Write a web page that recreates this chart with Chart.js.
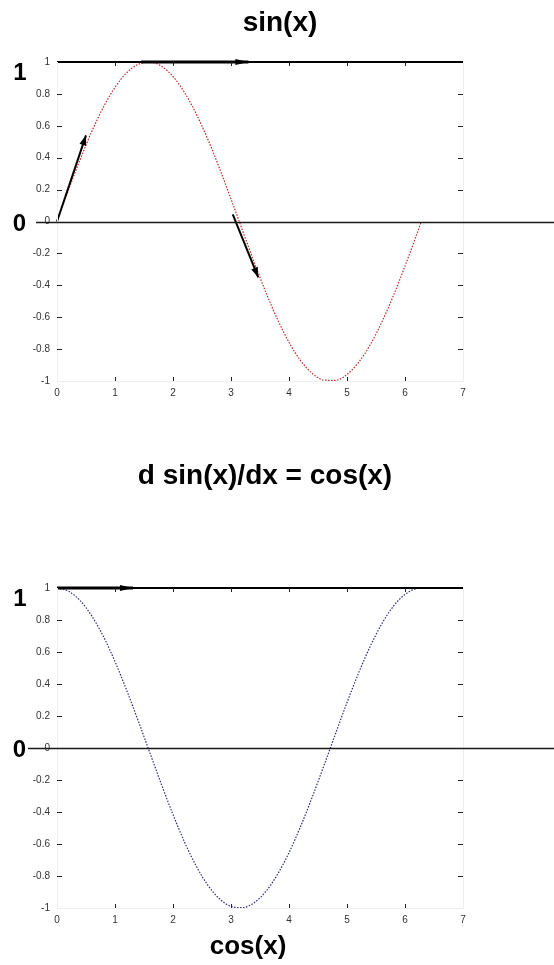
<!DOCTYPE html>
<html>
<head>
<meta charset="utf-8">
<script src="https://cdn.jsdelivr.net/npm/chart.js@4.4.1/dist/chart.umd.min.js"></script>
<style>
  html, body { margin: 0; padding: 0; background: #fff; }
  #wrap { position: relative; width: 554px; height: 965px; overflow: hidden; }
  canvas { position: absolute; left: 0; }
</style>
</head>
<body>
<div id="wrap">
  <canvas id="sinChart" width="554" height="440" style="top:0px"></canvas>
  <canvas id="cosChart" width="554" height="525" style="top:440px"></canvas>
</div>
<script>
// Sample positions along x (radians) and the curve values read at them
const xValues   = [0, 0.2, 0.4, 0.6, 0.8, 1.0, 1.2, 1.4, 1.6, 1.8, 2.0, 2.2, 2.4, 2.6, 2.8, 3.0,
                   3.2, 3.4, 3.6, 3.8, 4.0, 4.2, 4.4, 4.6, 4.8, 5.0, 5.2, 5.4, 5.6, 5.8, 6.0, 6.2, 6.28];
const sinValues = [0, 0.199, 0.389, 0.565, 0.717, 0.841, 0.932, 0.985, 1.0, 0.974, 0.909, 0.808, 0.675, 0.516, 0.335, 0.141,
                   -0.058, -0.256, -0.443, -0.612, -0.757, -0.872, -0.952, -0.994, -0.996, -0.959, -0.883, -0.773, -0.631, -0.465, -0.279, -0.083, 0.0];
const cosValues = [1.0, 0.980, 0.921, 0.825, 0.697, 0.540, 0.362, 0.170, -0.029, -0.227, -0.416, -0.589, -0.737, -0.857, -0.942, -0.990,
                   -0.998, -0.967, -0.897, -0.791, -0.654, -0.490, -0.307, -0.112, 0.087, 0.284, 0.469, 0.635, 0.776, 0.886, 0.960, 0.997, 1.0];

// Tick values for both panels
const xTicks = [0, 1, 2, 3, 4, 5, 6, 7];
const yTicks = [-1, -0.8, -0.6, -0.4, -0.2, 0, 0.2, 0.4, 0.6, 0.8, 1];

// Reference line at y = 1 spans the whole x range
const unitLineX = [0, 7];

// Slope arrows: [start x, start y, end x, end y]
const sinArrowSlope0  = [0, 0, 0.5, 0.54];
const sinArrowSlopePi = [3.03, 0.044, 3.47, -0.35];
const sinArrowPeak    = [1.45, 1, 3.3, 1];
const cosArrowStart   = [0, 1, 1.31, 1];

// Big marker labels at left
const markerLabels = ['1', '0'];

const FONT = '"Liberation Sans", Arial, Helvetica, sans-serif';

function pts(xs, ys) { return xs.map((x, i) => ({ x: x, y: ys[i] })); }
function arrowData(a) { return [{ x: a[0], y: a[1] }, { x: a[2], y: a[3] }]; }

function arrowDataset(a, width) {
  return {
    data: arrowData(a), isArrow: true,
    borderColor: '#000', borderWidth: width, pointRadius: 0,
    clip: 10, order: 0
  };
}

// Draws decorations that sit on top of the chart area
const decorPlugin = {
  id: 'decor',
  afterDatasetsDraw(chart, args, opts) {
    const ctx = chart.ctx;
    const xs = chart.scales.x, ys = chart.scales.y;
    const area = chart.chartArea;
    ctx.save();

    // faint frame on right and bottom
    ctx.strokeStyle = '#eeeeee';
    ctx.lineWidth = 1;
    ctx.beginPath();
    ctx.moveTo(area.left + 0.5, area.top);
    ctx.lineTo(area.left + 0.5, area.bottom + 0.5);
    ctx.lineTo(area.right + 0.5, area.bottom + 0.5);
    ctx.lineTo(area.right + 0.5, area.top);
    ctx.stroke();

    // inward tick marks on all four sides
    ctx.strokeStyle = '#222';
    ctx.lineWidth = 1;
    ctx.beginPath();
    xTicks.forEach(v => {
      if (v === xs.min || v === xs.max) return;
      const px = Math.round(xs.getPixelForValue(v)) + 0.5;
      ctx.moveTo(px, area.bottom); ctx.lineTo(px, area.bottom - 4);
      ctx.moveTo(px, area.top);    ctx.lineTo(px, area.top + 4);
    });
    yTicks.forEach(v => {
      if (v === ys.min || v === ys.max) return;
      const py = Math.round(ys.getPixelForValue(v)) + 0.5;
      ctx.moveTo(area.left, py);  ctx.lineTo(area.left + 5, py);
      ctx.moveTo(area.right, py); ctx.lineTo(area.right - 5, py);
    });
    ctx.stroke();

    // zero line running to the right edge of the page
    const y0 = Math.round(ys.getPixelForValue(0)) + 0.5;
    ctx.strokeStyle = '#1a1a1a';
    ctx.lineWidth = 1.5;
    ctx.beginPath();
    ctx.moveTo(opts.zeroStart, y0);
    ctx.lineTo(chart.width, y0);
    ctx.stroke();

    // arrow heads
    chart.data.datasets.forEach((ds, i) => {
      if (!ds.isArrow) return;
      const els = chart.getDatasetMeta(i).data;
      const a = els[0], b = els[els.length - 1];
      const ang = Math.atan2(b.y - a.y, b.x - a.x);
      const len = ds.headLength || 10, half = ds.headHalf || 3.5;
      ctx.fillStyle = '#000';
      ctx.beginPath();
      ctx.moveTo(b.x, b.y);
      ctx.lineTo(b.x - len * Math.cos(ang) + half * Math.sin(ang), b.y - len * Math.sin(ang) - half * Math.cos(ang));
      ctx.lineTo(b.x - len * Math.cos(ang) - half * Math.sin(ang), b.y - len * Math.sin(ang) + half * Math.cos(ang));
      ctx.closePath();
      ctx.fill();
    });

    // big "1" and "0" markers
    ctx.fillStyle = '#000';
    ctx.font = 'bold 24px ' + FONT;
    ctx.textAlign = 'center';
    ctx.textBaseline = 'alphabetic';
    const y1 = ys.getPixelForValue(1);
    ctx.fillText(markerLabels[0], 20, y1 + 18);
    ctx.fillText(markerLabels[1], 19.5, ys.getPixelForValue(0) + 9);

    // text titles
    (opts.texts || []).forEach(t => {
      ctx.font = 'bold ' + t.size + 'px ' + FONT;
      ctx.textAlign = 'center';
      ctx.textBaseline = 'alphabetic';
      ctx.fillText(t.text, t.x, t.y);
    });
    ctx.restore();
  }
};

function makeChart(id, curveValues, curveColor, arrows, layout) {
  const datasets = [
    {
      data: pts(xValues, curveValues),
      borderColor: curveColor, borderWidth: 1.2, borderDash: [1.5, 1.5],
      pointRadius: 0, cubicInterpolationMode: 'monotone', clip: 4, order: 2
    },
    {
      data: unitLineX.map(x => ({ x: x, y: 1 })),
      borderColor: '#000', borderWidth: 2, pointRadius: 0, clip: 4, order: 1
    }
  ].concat(arrows);

  return new Chart(document.getElementById(id), {
    type: 'line',
    data: { datasets: datasets },
    options: {
      responsive: false,
      animation: false,
      devicePixelRatio: 1,
      events: [],
      layout: { padding: { top: layout.top, right: 91, bottom: layout.bottom, left: 0 } },
      plugins: {
        legend: { display: false },
        tooltip: { enabled: false },
        title: { display: false },
        decor: { zeroStart: layout.zeroStart, texts: layout.texts }
      },
      scales: {
        x: {
          type: 'linear', min: 0, max: 7,
          afterBuildTicks: s => { s.ticks = xTicks.map(v => ({ value: v })); },
          afterFit: s => { s.height = 30; },
          grid: { display: false, drawTicks: false },
          border: { display: false },
          ticks: { font: { family: FONT, size: 10 }, color: '#333', padding: 6,
                   maxRotation: 0, autoSkip: false, callback: v => String(v) }
        },
        y: {
          type: 'linear', min: -1, max: 1,
          afterBuildTicks: s => { s.ticks = yTicks.map(v => ({ value: v })); },
          afterFit: s => { s.width = 57; },
          grid: { display: false, drawTicks: false },
          border: { display: false },
          ticks: { font: { family: FONT, size: 10 }, color: '#333', padding: 7,
                   autoSkip: false, callback: v => String(v) }
        }
      }
    },
    plugins: [decorPlugin]
  });
}

const peakArrow = arrowDataset(sinArrowPeak, 3);
peakArrow.headLength = 13; peakArrow.headHalf = 3;

makeChart('sinChart', sinValues, '#c02828',
  [arrowDataset(sinArrowSlope0, 2), arrowDataset(sinArrowSlopePi, 2), peakArrow],
  { top: 62, bottom: 440 - 381 - 30, zeroStart: 36,
    texts: [{ text: 'sin(x)', x: 280, y: 31, size: 28 }] });

const flatArrow = arrowDataset(cosArrowStart, 3);
flatArrow.headLength = 13; flatArrow.headHalf = 3;

makeChart('cosChart', cosValues, '#2a2a80',
  [flatArrow],
  { top: 588 - 440, bottom: 525 - 468 - 30, zeroStart: 28,
    texts: [{ text: 'd sin(x)/dx = cos(x)', x: 265, y: 484 - 440, size: 28 },
            { text: 'cos(x)', x: 248, y: 954 - 440, size: 26 }] });
</script>
</body>
</html>
